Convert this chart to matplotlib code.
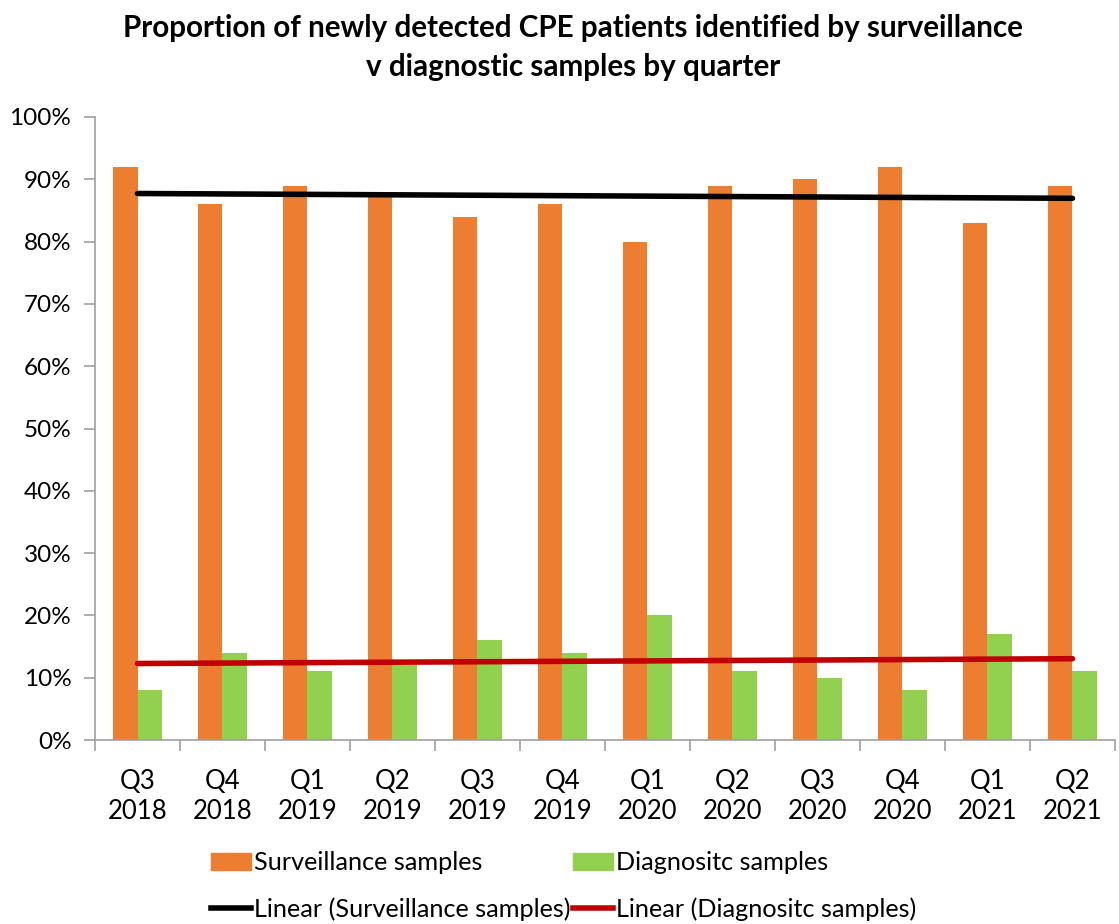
import numpy as np
import matplotlib
matplotlib.use("Agg")
import matplotlib.pyplot as plt
from matplotlib.lines import Line2D
from matplotlib.patches import Patch

quarters = ["Q3\n2018", "Q4\n2018", "Q1\n2019", "Q2\n2019", "Q3\n2019", "Q4\n2019",
            "Q1\n2020", "Q2\n2020", "Q3\n2020", "Q4\n2020", "Q1\n2021", "Q2\n2021"]
surveillance = [92, 86, 89, 88, 84, 86, 80, 89, 90, 92, 83, 89]
diagnostic = [8, 14, 11, 12, 16, 14, 20, 11, 10, 8, 17, 11]

plt.rcParams['font.family'] = ['Lato', 'DejaVu Sans']

fig = plt.figure(figsize=(11.19, 9.24), dpi=100)
ax = fig.add_axes([0.0849, 0.1991, 0.9115, 0.6743])

x = np.arange(len(quarters))
w = 0.29
orange = "#ED7D31"
green = "#92D050"
ax.bar(x - w/2, surveillance, w, color=orange, zorder=2)
ax.bar(x + w/2, diagnostic, w, color=green, zorder=2)

# linear trend lines
ps = np.polyfit(x, surveillance, 1)
pdg = np.polyfit(x, diagnostic, 1)
ax.plot(x[[0, -1]], np.polyval(ps, x[[0, -1]]), color="black", lw=4, zorder=3,
        solid_capstyle="round")
ax.plot(x[[0, -1]], np.polyval(pdg, x[[0, -1]]), color="#C00000", lw=4, zorder=3,
        solid_capstyle="round")

ax.set_xlim(-0.5, len(quarters) - 0.5)
ax.set_ylim(0, 100)
ax.set_yticks(np.arange(0, 101, 10))
ax.set_yticklabels([f"{v}%" for v in range(0, 101, 10)], fontsize=17.5)
ax.set_xticks(x)
ax.set_xticklabels(quarters, fontsize=18.5, linespacing=1.25)
ax.set_xticks(np.arange(-0.5, len(quarters)), minor=True)
ax.tick_params(axis='x', which='major', length=0, pad=21)
ax.tick_params(axis='x', which='minor', length=8, color="#A0A0A0", width=1.2)
ax.tick_params(axis='y', length=8, color="#A0A0A0", width=1.2, pad=9)
for s in ["top", "right"]:
    ax.spines[s].set_visible(False)
for s in ["left", "bottom"]:
    ax.spines[s].set_color("#A0A0A0")
    ax.spines[s].set_linewidth(1.2)

fig.suptitle("Proportion of newly detected CPE patients identified by surveillance\nv diagnostic samples by quarter",
             fontsize=21.3, fontweight="bold", x=0.512, y=0.985, linespacing=1.5)

handles = [Patch(color=orange), Line2D([], [], color="black", lw=4),
           Patch(color=green), Line2D([], [], color="#C00000", lw=4)]
labels = ["Surveillance samples", "Linear (Surveillance samples)",
          "Diagnositc samples", "Linear (Diagnositc samples)"]
fig.legend(handles, labels, ncol=2, loc="lower left", bbox_to_anchor=(0.168, -0.021),
           frameon=False, fontsize=18.2, handlelength=1.6, handletextpad=0.1,
           columnspacing=0.1, labelspacing=0.9)

fig.savefig("out.png", dpi=100)
